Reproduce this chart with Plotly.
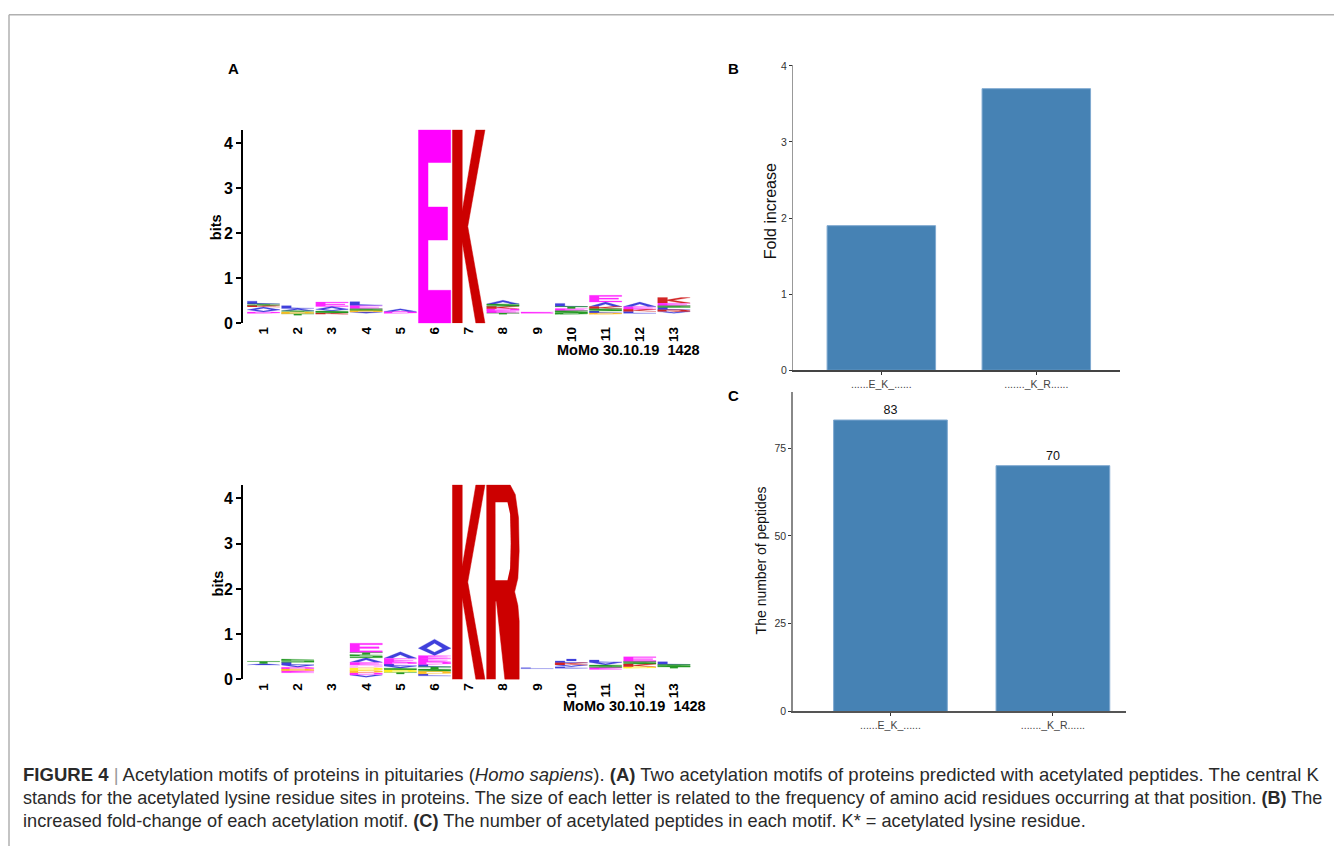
import plotly.graph_objects as go

# page placement of the figure in the photographed window (measured):
# x_page = x_fig + 8 ; y_page = 0.9817 * (y_fig + 14.2)
OX = 8
SY, TY = 0.9817, 14.2
W, H = 1342 - OX, 847

# ------------------------------------------------------------------ data
positions = list(range(1, 14))

# Motif 1 (...E_K...): hidden residual bits at the bottom of each column,
# letters stacked bottom->top, and their heights in bits
EK_base = [0.22, 0.18, 0.20, 0.22, 0.22, 0.0, 0.0, 0.20, 0.22, 0.20, 0.20, 0.22, 0.22]
EK_letters = ["DVAKSL", "TGSAL", "KSVAE", "VGSEL", "DA", "E", "K",
              "TEDKSA", "E", "NSETL", "GLSKAE", "LKEA", "VRLSEK"]
EK_heights = [[0.03, 0.05, 0.06, 0.04, 0.03, 0.06],
              [0.03, 0.04, 0.03, 0.05, 0.06],
              [0.03, 0.04, 0.04, 0.06, 0.10],
              [0.03, 0.03, 0.04, 0.08, 0.08],
              [0.04, 0.06],
              [4.3],
              [4.3],
              [0.03, 0.05, 0.04, 0.06, 0.05, 0.08],
              [0.03],
              [0.03, 0.05, 0.05, 0.04, 0.07],
              [0.03, 0.04, 0.05, 0.05, 0.10, 0.15],
              [0.04, 0.05, 0.06, 0.10],
              [0.04, 0.04, 0.05, 0.04, 0.06, 0.12]]

# Motif 2 (..._K_R...)
KR_base = [0.32, 0.15, 0.25, 0.05, 0.12, 0.08, 0.0, 0.0, 0.24, 0.25, 0.22, 0.25, 0.25]
KR_letters = ["AT", "EGDVLS", "", "VDGPHEASTE", "TPSVLDEA", "LGSTLDEEVA", "K", "R",
              "L", "LVKLI", "ESVL", "PKSE", "TSL"]
KR_heights = [[0.03, 0.05],
              [0.04, 0.04, 0.04, 0.05, 0.06, 0.07],
              [],
              [0.05, 0.05, 0.05, 0.06, 0.06, 0.06, 0.10, 0.07, 0.05, 0.20],
              [0.04, 0.05, 0.04, 0.05, 0.04, 0.04, 0.09, 0.14],
              [0.04, 0.06, 0.05, 0.05, 0.05, 0.06, 0.08, 0.06, 0.16, 0.20],
              [4.3],
              [4.3],
              [0.02],
              [0.03, 0.04, 0.05, 0.04, 0.04],
              [0.04, 0.06, 0.06, 0.05],
              [0.03, 0.06, 0.06, 0.10],
              [0.03, 0.05, 0.06]]

motifs = ["......E_K_......", "......._K_R......"]
fold_increase = [1.9, 3.7]
peptide_counts = [83, 70]

caption_lines = [
    "<b>FIGURE 4</b> <span style='color:#9a9a9a'>|</span> Acetylation motifs of proteins in pituitaries (<i>Homo sapiens</i>). "
    "<b>(A)</b> Two acetylation motifs of proteins predicted with acetylated peptides. The central K",
    "stands for the acetylated lysine residue sites in proteins. The size of each letter is related to the "
    "frequency of amino acid residues occurring at that position. <b>(B)</b> The",
    "increased fold-change of each acetylation motif. <b>(C)</b> The number of acetylated peptides in each motif. "
    "K* = acetylated lysine residue.",
]
caption_sizes = [18.55, 18.05, 18.2]

# ------------------------------------------------------------------ styling
AA_COLORS = {}
for aa in "ACFILVWM":
    AA_COLORS[aa] = "#1f1fd6"
for aa in "NQST":
    AA_COLORS[aa] = "#008a00"
for aa in "DE":
    AA_COLORS[aa] = "#ff00ff"
for aa in "KR":
    AA_COLORS[aa] = "#cc0000"
AA_COLORS["G"] = "#ffb300"
AA_COLORS["P"] = "#ffee00"
AA_COLORS["H"] = "#ffaaff"
AA_COLORS["Y"] = "#33e6cc"

RING = [(0, 0), (0.8, 0), (1, 0.25), (1, 0.75), (0.8, 1), (0, 1), (0, 0),
        (0.25, 0.2), (0.25, 0.8), (0.7, 0.8), (0.75, 0.7), (0.75, 0.3), (0.7, 0.2), (0.25, 0.2)]
GLYPHS = {
    "E": [(0, 0), (1, 0), (1, 0.17), (0.3, 0.17), (0.3, 0.43), (0.9, 0.43), (0.9, 0.6),
          (0.3, 0.6), (0.3, 0.83), (1, 0.83), (1, 1), (0, 1)],
    "K": [(0, 0), (0, 1), (0.3, 1), (0.3, 0.58), (0.72, 1), (1, 1), (0.47, 0.5),
          (1, 0), (0.72, 0), (0.3, 0.42), (0.3, 0)],
    "R": [(0, 0), (0, 1), (0.72, 1), (0.88, 0.95), (0.98, 0.83), (1, 0.66), (0.96, 0.52),
          (0.86, 0.45), (0.96, 0.38), (1, 0.3), (1, 0), (0.56, 0), (0.3, 0.4), (0.27, 0.4),
          (0.27, 0)],
    "A": [(0, 0), (0.5, 1), (1, 0), (0.75, 0), (0.5, 0.55), (0.25, 0)],
    "V": [(0, 1), (0.5, 0), (1, 1), (0.75, 1), (0.5, 0.45), (0.25, 1)],
    "L": [(0, 0), (1, 0), (1, 0.2), (0.3, 0.2), (0.3, 1), (0, 1)],
    "I": [(0.35, 0), (0.65, 0), (0.65, 1), (0.35, 1)],
    "T": [(0, 0.8), (0, 1), (1, 1), (1, 0.8), (0.62, 0.8), (0.62, 0), (0.38, 0), (0.38, 0.8)],
    "S": [(0, 0), (1, 0), (1, 0.55), (0.3, 0.55), (0.3, 0.8), (1, 0.8), (1, 1), (0, 1),
          (0, 0.45), (0.7, 0.45), (0.7, 0.2), (0, 0.2)],
}
HOLES = {"R": [(0.27, 0.51), (0.27, 0.91), (0.64, 0.91), (0.72, 0.85), (0.74, 0.7),
               (0.72, 0.57), (0.64, 0.51)]}
LETTER_W = 0.95


def fx(px):
    return (px - OX) / W


def fy(py):
    fig_y = max(py / SY - TY, 0.8)
    return 1 - fig_y / H


def logo_traces(base, letters, heights, xa, ya):
    groups = {}
    holes_x, holes_y = [], []
    for pos, b, lets, hs in zip(positions, base, letters, heights):
        y0 = b
        for let, h in zip(lets, hs):
            poly = GLYPHS.get(let, RING)
            col = AA_COLORS.get(let, "#888888")
            big = h > 1
            gx, gy = groups.setdefault((col, big), ([], []))
            gx.extend([pos - LETTER_W / 2 + u * LETTER_W for u, _ in poly] + [None])
            gy.extend([y0 + v * h for _, v in poly] + [None])
            if let in HOLES:
                hp = HOLES[let]
                holes_x.extend([pos - LETTER_W / 2 + u * LETTER_W for u, _ in hp] + [None])
                holes_y.extend([y0 + v * h for _, v in hp] + [None])
            y0 += h
    traces = []
    for (col, big), (gx, gy) in groups.items():
        traces.append(go.Scatter(x=gx, y=gy, mode="lines", fill="toself", fillcolor=col,
                                 line=dict(color=col, width=0.5 if big else 0.25),
                                 opacity=1 if big else 0.85, xaxis=xa, yaxis=ya,
                                 hoverinfo="skip", showlegend=False))
    if holes_x:
        traces.append(go.Scatter(x=holes_x, y=holes_y, mode="lines", fill="toself",
                                 fillcolor="white", line=dict(color="white", width=0),
                                 xaxis=xa, yaxis=ya, hoverinfo="skip", showlegend=False))
    return traces


fig = go.Figure()
for t in logo_traces(EK_base, EK_letters, EK_heights, "x", "y"):
    fig.add_trace(t)
for t in logo_traces(KR_base, KR_letters, KR_heights, "x2", "y2"):
    fig.add_trace(t)

BAR_COLOR = "#4682b4"
fig.add_trace(go.Bar(x=motifs, y=fold_increase, width=0.7, marker=dict(color=BAR_COLOR,
                     line=dict(color="#7fa9d0", width=1)), xaxis="x3", yaxis="y3",
                     hoverinfo="skip", showlegend=False))
fig.add_trace(go.Bar(x=motifs, y=peptide_counts, width=0.7, text=[str(v) for v in peptide_counts],
                     textposition="outside", textfont=dict(family="Liberation Sans", size=12.5, color="#111"),
                     cliponaxis=False,
                     marker=dict(color=BAR_COLOR, line=dict(color="#7fa9d0", width=1)),
                     xaxis="x4", yaxis="y4", hoverinfo="skip", showlegend=False))

FONT = "Liberation Sans, Arial, sans-serif"
logo_x = dict(range=[0.4, 13.8], domain=[fx(243), fx(701.3)], showgrid=False, zeroline=False,
              showline=False, tickmode="array", tickvals=positions,
              ticktext=[f"<b>{p}</b>" for p in positions], tickangle=-90, ticks="",
              tickfont=dict(family=FONT, size=13.5, color="black"), fixedrange=True)
logo_y = dict(range=[0, 4.3], showgrid=False, zeroline=False, showline=True, linecolor="black",
              linewidth=2, ticks="outside", ticklen=5, tickwidth=2, tickcolor="black",
              tickmode="array", tickvals=[0, 1, 2, 3, 4],
              ticktext=[f"<b>{v}</b>" for v in range(5)],
              tickfont=dict(family=FONT, size=16, color="black"), fixedrange=True)

bar_x_common = dict(showgrid=False, zeroline=False, showline=True, ticks="outside", ticklen=3,
                    tickcolor="#333", tickfont=dict(family=FONT, size=10.5, color="#444"),
                    fixedrange=True)
bar_y_common = dict(showgrid=False, zeroline=False, showline=True, ticks="outside", ticklen=3,
                    tickcolor="#333", tickfont=dict(family=FONT, size=10.5, color="#333"),
                    fixedrange=True)

fig.update_layout(
    width=W, height=H, margin=dict(l=0, r=0, t=0, b=0),
    paper_bgcolor="white", plot_bgcolor="white", showlegend=False,
    xaxis=dict(logo_x, anchor="y"),
    yaxis=dict(logo_y, domain=[fy(323), fy(323 - 4.3 * 45)], anchor="x"),
    xaxis2=dict(logo_x, anchor="y2"),
    yaxis2=dict(logo_y, domain=[fy(679), fy(679 - 4.3 * 45.25)], anchor="x2"),
    xaxis3=dict(bar_x_common, domain=[fx(793), fx(1120)], range=[-0.57, 1.54], anchor="y3",
                linecolor="#444", linewidth=1.5),
    yaxis3=dict(bar_y_common, domain=[fy(370), fy(65)], range=[0, 4.01], tickvals=[0, 1, 2, 3, 4],
                anchor="x3", linecolor="#999", linewidth=1),
    xaxis4=dict(bar_x_common, domain=[fx(793), fx(1126)], range=[-0.6, 1.45], anchor="y4",
                linecolor="#555", linewidth=2),
    yaxis4=dict(bar_y_common, domain=[fy(711), fy(392)], range=[0, 90.9], tickvals=[0, 25, 50, 75],
                anchor="x4", linecolor="#888", linewidth=1.5),
)

ann = []


def add_text(text, x, y, size, xanchor="center", yanchor="middle", angle=0, color="black",
             family=FONT):
    ann.append(dict(text=text, x=fx(x), y=fy(y), xref="paper", yref="paper", showarrow=False,
                    xanchor=xanchor, yanchor=yanchor, textangle=angle,
                    font=dict(family=family, size=size, color=color)))


add_text("<b>A</b>", 233, 68, 15)
add_text("<b>B</b>", 733, 68, 15)
add_text("<b>C</b>", 733, 395, 15)
add_text("<b>bits</b>", 216, 227, 14.5, angle=-90)
add_text("<b>bits</b>", 218, 583, 14.5, angle=-90)
add_text("<b>MoMo 30.10.19\u00a0\u00a01428</b>", 702, 350, 14.5, xanchor="right")
add_text("<b>MoMo 30.10.19\u00a0\u00a01428</b>", 708, 706, 14.5, xanchor="right")
add_text("Fold increase", 770, 211, 16, angle=-90, color="#111")
add_text("The number of peptides", 761, 560, 14, angle=-90, color="#111")

for i, (line, sz) in enumerate(zip(caption_lines, caption_sizes)):
    add_text(line, 21, 774 + 23 * i, sz, xanchor="left", color="#2a2a2a")

fig.update_layout(annotations=ann)

fig.update_layout(shapes=[
    dict(type="line", xref="paper", yref="paper", x0=fx(9), x1=1, y0=fy(10), y1=fy(10),
         line=dict(color="#b0b0b0", width=1.5)),
    dict(type="line", xref="paper", yref="paper", x0=fx(9), x1=fx(9), y0=fy(10), y1=0,
         line=dict(color="#b0b0b0", width=1.5)),
])

fig.write_html("out.html")
